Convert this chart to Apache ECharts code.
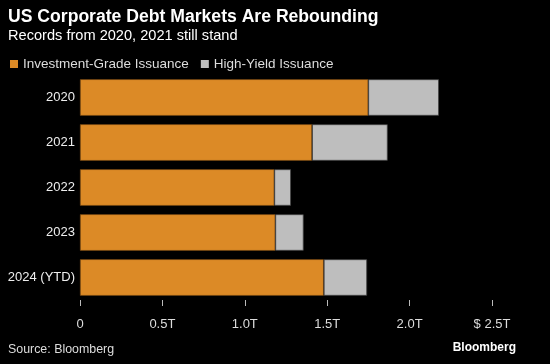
<!DOCTYPE html>
<html><head><meta charset="utf-8">
<script src="https://cdn.jsdelivr.net/npm/echarts@6/dist/echarts.min.js"></script>
<style>html,body{margin:0;padding:0;background:#000;}#c{width:550px;height:364px;}</style>
</head><body><div id="c"></div>
<script>
const categories = ['2020', '2021', '2022', '2023', '2024 (YTD)'];
const investmentGrade = [1.749, 1.408, 1.179, 1.185, 1.479];
const highYield = [0.429, 0.459, 0.101, 0.172, 0.263];
const tickValues = [0, 0.5, 1.0, 1.5, 2.0, 2.5];
const tickLabels = ['0', '0.5T', '1.0T', '1.5T', '2.0T', '$ 2.5T'];

const FONT = 'Liberation Sans';
const chart = echarts.init(document.getElementById('c'), null, {renderer: 'canvas'});
chart.setOption({
  backgroundColor: '#000',
  animation: false,
  textStyle: {fontFamily: FONT},
  title: [
    {text: 'US Corporate Debt Markets Are Rebounding', left: 8, top: 8, padding: 0,
     textStyle: {color: '#fff', fontSize: 17.6, fontWeight: 'bold', fontFamily: FONT}},
    {text: 'Records from 2020, 2021 still stand', left: 8, top: 28, padding: 0,
     textStyle: {color: '#fff', fontSize: 14.6, fontWeight: 'normal', fontFamily: FONT}},
    {text: 'Source: Bloomberg', left: 8, top: 344, padding: 0,
     textStyle: {color: '#ddd', fontSize: 12.4, fontWeight: 'normal', fontFamily: FONT}},
    {text: 'Bloomberg', right: 34, top: 342, padding: 0,
     textStyle: {color: '#fff', fontSize: 12, fontWeight: 'bold', fontFamily: FONT}}
  ],
  legend: {
    left: 5, top: 52, itemWidth: 8, itemHeight: 8, itemGap: 12,
    icon: 'rect',
    itemStyle: {borderWidth: 0},
    textStyle: {color: '#ddd', fontSize: 13.5, fontFamily: FONT},
    data: ['Investment-Grade Issuance', 'High-Yield Issuance']
  },
  grid: {left: 80, right: 58, top: 75, height: 225, containLabel: false},
  xAxis: {
    type: 'value', min: 0, max: 2.5, interval: 0.5,
    axisLine: {show: false},
    splitLine: {show: false},
    axisTick: {show: true, length: 6, inside: false, lineStyle: {color: '#bbb', width: 1}},
    axisLabel: {color: '#ddd', fontSize: 13, margin: 18, fontFamily: FONT,
      formatter: function (v) { const i = tickValues.findIndex(t => Math.abs(t - v) < 1e-9); return i >= 0 ? tickLabels[i] : ''; }}
  },
  yAxis: {
    type: 'category', data: categories, inverse: true,
    axisLine: {show: false}, axisTick: {show: false},
    axisLabel: {color: '#eee', fontSize: 13, margin: 5, fontFamily: FONT}
  },
  series: [
    {name: 'Investment-Grade Issuance', type: 'bar', stack: 'a', data: investmentGrade,
     barCategoryGap: '19%',
     itemStyle: {color: '#dc8a26', borderColor: '#6a4010', borderWidth: 0.6}},
    {name: 'High-Yield Issuance', type: 'bar', stack: 'a', data: highYield,
     itemStyle: {color: '#bebebe', borderColor: '#444', borderWidth: 0.8}}
  ]
});
</script></body></html>
